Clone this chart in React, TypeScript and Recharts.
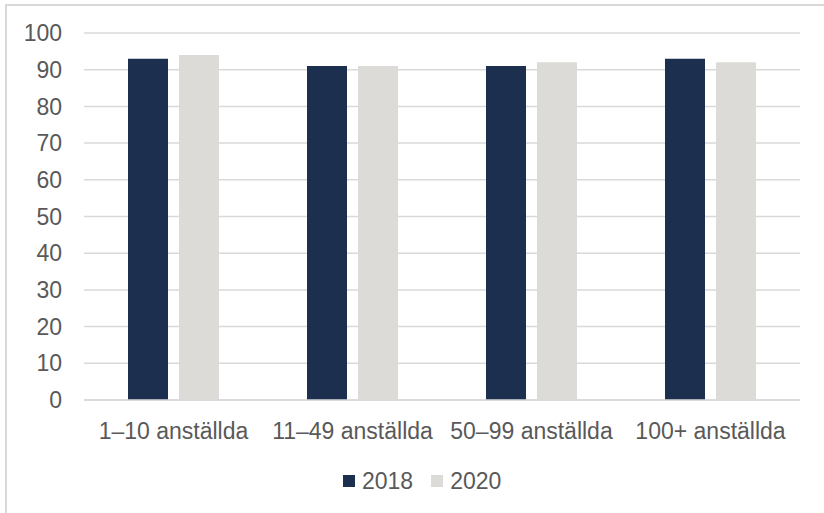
import React from 'react';
import { BarChart, Bar, XAxis, YAxis, CartesianGrid, Legend } from 'recharts';

const categories = ['1–10 anställda', '11–49 anställda', '50–99 anställda', '100+ anställda'];
const values2018 = [93, 91, 91, 93];
const values2020 = [94, 91, 92, 92];
const yTicks = [0, 10, 20, 30, 40, 50, 60, 70, 80, 90, 100];

const seriesInfo = [
  { key: 'y2018', name: '2018', color: '#1c2f4f' },
  { key: 'y2020', name: '2020', color: '#dcdbd7' },
];

const data = categories.map((category, i) => ({
  category,
  y2018: values2018[i],
  y2020: values2020[i],
}));

const font = '"Liberation Sans", Arial, sans-serif';
const textColor = '#595959';
const gridColor = '#d9d9d9';

function ChartLegend() {
  return (
    <div style={{ display: 'flex', alignItems: 'center', height: 26, paddingLeft: 343, fontFamily: font, fontSize: 23, color: textColor }}>
      {seriesInfo.map((s, i) => (
        <div key={s.key} style={{ display: 'flex', alignItems: 'center', marginRight: i === 0 ? 18 : 0 }}>
          <span style={{ width: 12, height: 12, background: s.color, display: 'inline-block', marginRight: 7 }} />
          <span>{s.name}</span>
        </div>
      ))}
    </div>
  );
}

export default function App() {
  return (
    <div style={{ position: 'absolute', left: 0, top: 0, width: 824, height: 513, background: '#fff', overflow: 'hidden' }}>
      <div style={{ position: 'absolute', left: 5, top: 4, right: -4, bottom: -4, borderTop: `2px solid ${gridColor}`, borderLeft: `2px solid ${gridColor}` }} />
      <div style={{ position: 'absolute', left: 0, top: 0 }}>
        <BarChart
          width={824}
          height={513}
          data={data}
          margin={{ top: 33, right: 24, left: 0, bottom: 19 }}
          barGap={11}
          barSize={40}
        >
          <CartesianGrid vertical={false} stroke={gridColor} strokeWidth={1.5} />
          <XAxis
            dataKey="category"
            interval={0}
            height={68}
            tickLine={false}
            tickSize={0}
            tickMargin={23}
            axisLine={{ stroke: gridColor, strokeWidth: 1.5 }}
            tick={{ fill: textColor, fontSize: 23, fontFamily: font }}
          />
          <YAxis
            width={84}
            domain={[0, 100]}
            ticks={yTicks}
            interval={0}
            axisLine={false}
            tickLine={false}
            tickSize={0}
            tickMargin={22}
            tick={{ fill: textColor, fontSize: 23, fontFamily: font }}
          />
          <Legend verticalAlign="bottom" content={() => <ChartLegend />} wrapperStyle={{ left: 0, width: 824 }} />
          {seriesInfo.map((s) => (
            <Bar key={s.key} dataKey={s.key} name={s.name} fill={s.color} isAnimationActive={false} />
          ))}
        </BarChart>
      </div>
    </div>
  );
}
